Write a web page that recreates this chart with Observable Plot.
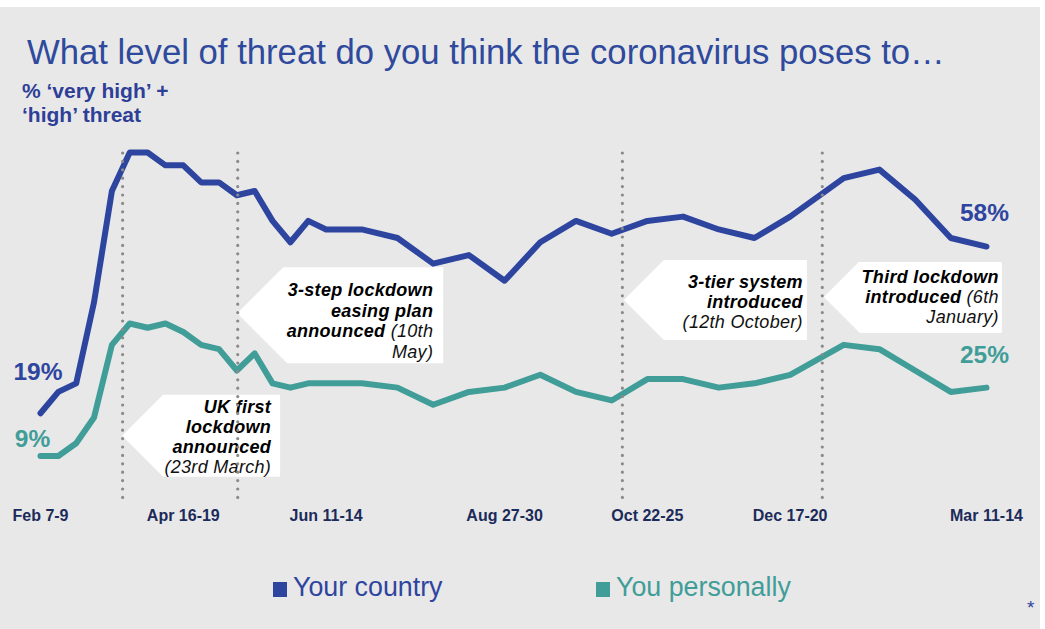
<!DOCTYPE html>
<html>
<head>
<meta charset="utf-8">
<script src="https://cdn.jsdelivr.net/npm/d3@7"></script>
<script src="https://cdn.jsdelivr.net/npm/@observablehq/plot@0.6"></script>
<style>
  html, body { margin:0; padding:0; background:#fff; }
  body { width:1045px; height:629px; overflow:hidden; position:relative; font-family:"Liberation Sans", Arial, sans-serif; }
  #panel { position:absolute; left:0; top:7px; width:1040px; height:622px; background:#e8e8e8; }
  #title { position:absolute; left:27px; top:34px; font-size:34.7px; line-height:36px; color:#2f4a9d; white-space:nowrap; }
  #subtitle { position:absolute; left:22px; top:79px; font-size:21px; line-height:24px; font-weight:bold; color:#2e3f98; }
  #chart { position:absolute; left:0; top:130px; }
  #legend { position:absolute; top:570px; left:0; width:1040px; height:36px; }
  .lg { position:absolute; top:0; font-size:26.8px; line-height:34px; white-space:nowrap; }
  .lg span.sw { display:inline-block; width:14px; height:15px; margin-right:6px; vertical-align:-1px; }
  #star { position:absolute; left:1027px; top:598px; font-size:19px; line-height:20px; color:#2e44a0; }
</style>
</head>
<body>
<div id="panel"></div>
<div id="title"></div>
<div id="subtitle"></div>
<div id="chart"></div>
<div id="legend"></div>
<div id="star">*</div>
<script>
// ---------- data ----------
const titleText = "What level of threat do you think the coronavirus poses to…";
const subtitleLines = ["% ‘very high’ +", "‘high’ threat"];
const seriesNames = ["Your country", "You personally"];
// wave index on the (evenly spaced) survey timeline
const waveIdx = [0,1,2,3,4,5,6,7,8,9,10,11,12,13,14,15,16,17,18,20,22,24,26,28,30,32,34,36,38,40,42,45,47,49,51,53];
const country    = [19,24,26,45,71,80,80,77,77,73,73,70,71,64,59,64,62,62,62,60,54,56,50,59,64,61,64,65,62,60,65,74,76,69,60,58];
const personally = [9,9,12,18,35,40,39,40,38,35,34,29,33,26,25,26,26,26,26,25,21,24,25,28,24,22,27,27,25,26,28,35,34,29,24,25];
const tickIdx    = [0, 8, 16, 26, 34, 42, 53];
const tickLabels = ["Feb 7-9","Apr 16-19","Jun 11-14","Aug 27-30","Oct 22-25","Dec 17-20","Mar 11-14"];
const eventIdx   = [4.6, 11.05, 32.6, 43.8];
const eventTipValue = [13.6, 42.3, 45.4, 46.1];
const eventTexts = [
  [[["UK first","b"]],[["lockdown","b"]],[["announced","b"]],[["(23rd March)","n"]]],
  [[["3-step lockdown","b"]],[["easing plan","b"]],[["announced ","b"],["(10th","n"]],[["May)","n"]]],
  [[["3-tier system","b"]],[["introduced","b"]],[["(12th October)","n"]]],
  [[["Third lockdown","b"]],[["introduced ","b"],["(6th","n"]],[["January)","n"]]]
];

// ---------- styles / layout ----------
const BLUE = "#2e45a0", TEAL = "#409d98", NAVY = "#1b2b5a", DOT = "#8a8a8a";
const callLayout = [
  {dx:0, top:-41, bottom:41, right:158, textRight:149, base:[-23,-3,17,37]},
  {dx:0, top:-46, bottom:50, right:206, textRight:196, base:[-17,4,24,45]},
  {dx:2, top:-40, bottom:40, right:183, textRight:179, base:[-12,8,28]},
  {dx:2, top:-35, bottom:36, right:178, textRight:175, base:[-14,6,26]}
];

document.getElementById("title").textContent = titleText;
document.getElementById("subtitle").innerHTML = subtitleLines.join("<br>");

const rowsC = waveIdx.map((i,k) => ({i, v: country[k]}));
const rowsP = waveIdx.map((i,k) => ({i, v: personally[k]}));
const events = eventIdx.map((i,k) => ({i, k}));
const last = waveIdx.length - 1;
const endLabels = [
  {i: waveIdx[0], v: country[0], t: country[0] + "%", c: BLUE, dx: -2.5, dy: -41},
  {i: waveIdx[0], v: personally[0], t: personally[0] + "%", c: TEAL, dx: -8, dy: -17},
  {i: waveIdx[last], v: country[last], t: country[last] + "%", c: BLUE, dx: -2, dy: -33},
  {i: waveIdx[last], v: personally[last], t: personally[last] + "%", c: TEAL, dx: -2, dy: -32}
];

const plot = Plot.plot({
  width: 1040,
  height: 410,
  marginLeft: 40,
  marginRight: 54,
  marginTop: 22,
  marginBottom: 46,
  style: {background: "transparent", fontFamily: "Liberation Sans, Arial, sans-serif", overflow: "visible"},
  x: {domain: [0, 53]},
  y: {domain: [0, 80], axis: null},
  marks: [
    Plot.axisX({ticks: tickIdx, tickFormat: d => tickLabels[tickIdx.indexOf(d)], tickSize: 0, tickPadding: 15,
      fontSize: 16, fontWeight: "bold", fill: NAVY, label: null}),
    Plot.line(rowsC, {x: "i", y: "v", stroke: BLUE, strokeWidth: 6, strokeLinejoin: "round", strokeLinecap: "round"}),
    Plot.line(rowsP, {x: "i", y: "v", stroke: TEAL, strokeWidth: 6, strokeLinejoin: "round", strokeLinecap: "round"}),
    Plot.ruleX(events, {x: "i", y1: -0.8, y2: 80.8, stroke: DOT, strokeWidth: 3.2, strokeDasharray: "0,8.4", strokeLinecap: "round"}),
    ...endLabels.map(d => Plot.text([d], {x: "i", y: "v", text: "t", fill: d.c, dx: d.dx, dy: d.dy,
      fontSize: 24.5, fontWeight: "bold", textAnchor: "middle", lineAnchor: "middle"}))
  ]
});
document.getElementById("chart").appendChild(plot);

// ---------- callouts (positioned through the plot's scales) ----------
const xs = plot.scale("x"), ys = plot.scale("y");
const svg = d3.select(plot);
const g = svg.append("g");
events.forEach((e, k) => {
  const L = callLayout[k];
  const tx = xs.apply(e.i) + L.dx, ty = ys.apply(eventTipValue[k]);
  const top = ty + L.top, bot = ty + L.bottom;
  const up = -L.top, dn = L.bottom;
  const pts = [[tx, ty], [tx + up, top], [tx + L.right, top], [tx + L.right, bot], [tx + dn, bot]];
  g.append("polygon").attr("points", pts.map(p => p.join(",")).join(" ")).attr("fill", "#fff");
  const t = g.append("g").attr("font-size", 18).attr("font-style", "italic").attr("fill", "#000").attr("letter-spacing", "0.3px");
  eventTexts[k].forEach((line, j) => {
    const te = t.append("text").attr("x", tx + L.textRight).attr("y", ty + L.base[j]).attr("text-anchor", "end");
    line.forEach(([s, w]) => {
      te.append("tspan").attr("font-weight", w === "b" ? "bold" : "normal").attr("fill", w === "b" ? "#000" : "#111").text(s);
    });
  });
});
svg.selectAll("g[aria-label='rule']").raise();

// ---------- legend ----------
const legend = d3.select("#legend");
[[seriesNames[0], BLUE, 273], [seriesNames[1], TEAL, 596]].forEach(([name, col, left]) => {
  const d = legend.append("div").attr("class", "lg").style("left", left + "px").style("color", col);
  d.append("span").attr("class", "sw").style("background", col);
  d.append("span").text(name);
});
</script>
</body>
</html>
